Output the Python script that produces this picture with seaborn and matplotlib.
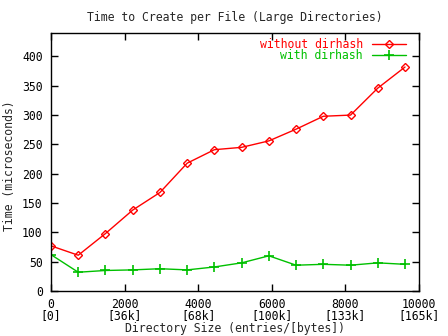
import matplotlib
matplotlib.use("Agg")
import matplotlib.pyplot as plt
import seaborn as sns
import pandas as pd

entries = [0, 740, 1480, 2220, 2960, 3700, 4440, 5180, 5920, 6660, 7400, 8140, 8880, 9620]
without_dirhash = [77, 61, 98, 138, 168, 218, 241, 245, 256, 276, 298, 300, 346, 382]
with_dirhash = [62, 32, 35, 36, 38, 36, 41, 48, 60, 44, 45.5, 44, 48, 45.5]

xtick_values = [0, 2000, 4000, 6000, 8000, 10000]
xtick_bytes = ["0", "36k", "68k", "100k", "133k", "165k"]

sns.set_style("white")
plt.rcParams["font.family"] = ["DejaVu Sans Mono"]

df = pd.DataFrame({
    "entries": entries * 2,
    "time": without_dirhash + with_dirhash,
    "series": ["without dirhash"] * len(entries) + ["with dirhash"] * len(entries),
})

fig = plt.figure(figsize=(4.48, 3.36), dpi=100)
ax = fig.add_axes([51 / 448, 45 / 336, 368 / 448, 258 / 336])

palette = {"without dirhash": "#ff0000", "with dirhash": "#00c000"}
styles = {
    "without dirhash": dict(marker="D", markersize=4, markerfacecolor="none",
                            markeredgewidth=1.0),
    "with dirhash": dict(marker="+", markersize=7, markeredgewidth=1.2),
}
for name in ["without dirhash", "with dirhash"]:
    sub = df[df["series"] == name]
    sns.lineplot(data=sub, x="entries", y="time", ax=ax, color=palette[name],
                 linewidth=1.0, label=name, markeredgecolor=palette[name],
                 **styles[name])

ax.set_xlim(0, 10000)
ax.set_ylim(0, 440)
ax.set_yticks(range(0, 401, 50))
ax.set_xticks(xtick_values)
ax.set_xticklabels([f"{v}\n[{b}]" for v, b in zip(xtick_values, xtick_bytes)],
                   linespacing=0.8)

for s in ax.spines.values():
    s.set_visible(True)
    s.set_color("black")
    s.set_linewidth(1.0)

ax.tick_params(direction="in", length=5, width=1, labelsize=8.3,
               top=True, right=True, bottom=True, left=True, colors="black")
ax.tick_params(axis="y", pad=6)
ax.tick_params(axis="x", pad=5)

ax.set_title("Time to Create per File (Large Directories)", fontsize=8.3, pad=9)
ax.set_xlabel("Directory Size (entries/[bytes])", fontsize=8.3)
ax.set_ylabel("Time (microseconds)", fontsize=8.3)
ax.xaxis.set_label_coords(0.5, -0.147)
ax.yaxis.set_label_coords(-0.112, 0.487)
ax.xaxis.label.set_va("center")
ax.yaxis.label.set_va("center")

leg = ax.legend(loc="upper right", bbox_to_anchor=(0.965, 0.982),
                frameon=False, markerfirst=False, labelcolor="linecolor",
                fontsize=8.3, handlelength=2.95, handletextpad=0.8,
                borderaxespad=0, borderpad=0, labelspacing=-0.1)

fig.savefig("out.png", dpi=100)
